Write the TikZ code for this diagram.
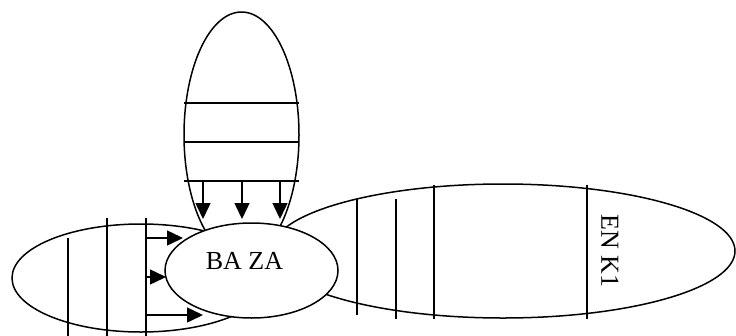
\documentclass[tikz,border=0pt]{standalone}
\usepackage{fontspec}
\setmainfont{Liberation Serif}
\usetikzlibrary{shapes.geometric,arrows.meta}
\begin{document}
\begin{tikzpicture}[x=1pt,y=-1pt,
  oval/.style={draw,ellipse,line width=1.5pt,fill=white,inner sep=0pt},
  bar/.style={line width=1.5pt},
  flow/.style={line width=1.5pt,-{Triangle[length=16pt,width=15pt]}},
  lbl/.style={font=\fontsize{26}{31}\selectfont,inner sep=0pt}]
\useasboundingbox (0,0) rectangle (736,335);
% top ellipse
\node[oval,minimum width=115pt,minimum height=246pt] (top) at (241.5,135) {};
\coordinate (ta1) at (184,103); \coordinate (tb1) at (299,103);
\coordinate (ta2) at (184,142); \coordinate (tb2) at (299,142);
\coordinate (ta3) at (184,181); \coordinate (tb3) at (299,181);
\draw[bar] (ta1) -- (tb1);
\draw[bar] (ta2) -- (tb2);
\draw[bar] (ta3) -- (tb3);
\coordinate (ts1) at (203,181); \coordinate (te1) at (203,219);
\coordinate (ts2) at (242,181); \coordinate (te2) at (242,219);
\coordinate (ts3) at (280,181); \coordinate (te3) at (280,219);
\draw[flow] (ts1) -- (te1);
\draw[flow] (ts2) -- (te2);
\draw[flow] (ts3) -- (te3);
% left ellipse
\node[oval,minimum width=258pt,minimum height=108pt] (left) at (141,278) {};
\coordinate (la1) at (68,238);  \coordinate (lb1) at (68,336);
\coordinate (la2) at (107,218); \coordinate (lb2) at (107,336);
\coordinate (la3) at (146,218); \coordinate (lb3) at (146,336);
\draw[bar] (la1) -- (lb1);
\draw[bar] (la2) -- (lb2);
\draw[bar] (la3) -- (lb3);
% right ellipse
\node[oval,minimum width=464pt,minimum height=134pt] (right) at (503,251) {};
\coordinate (ra1) at (357,199); \coordinate (rb1) at (357,315);
\coordinate (ra2) at (396,199); \coordinate (rb2) at (396,319);
\coordinate (ra3) at (434,185); \coordinate (rb3) at (434,319);
\coordinate (ra4) at (587,185); \coordinate (rb4) at (587,319);
\draw[bar] (ra1) -- (rb1);
\draw[bar] (ra2) -- (rb2);
\draw[bar] (ra3) -- (rb3);
\draw[bar] (ra4) -- (rb4);
\node[lbl,rotate=-90] (enk) at (610,251) {EN K1};
% central ellipse
\node[oval,minimum width=173pt,minimum height=95pt] (baza) at (251.5,270.5) {};
\node[lbl] (bazatext) at (244.5,260.5) {BA ZA};
% arrows from the left
\coordinate (ls1) at (146,238); \coordinate (le1) at (183,238);
\coordinate (ls2) at (146,277); \coordinate (le2) at (166,277);
\coordinate (ls3) at (146,315); \coordinate (le3) at (203,315);
\draw[flow] (ls1) -- (le1);
\draw[flow] (ls2) -- (le2);
\draw[flow] (ls3) -- (le3);
\end{tikzpicture}
\end{document}
